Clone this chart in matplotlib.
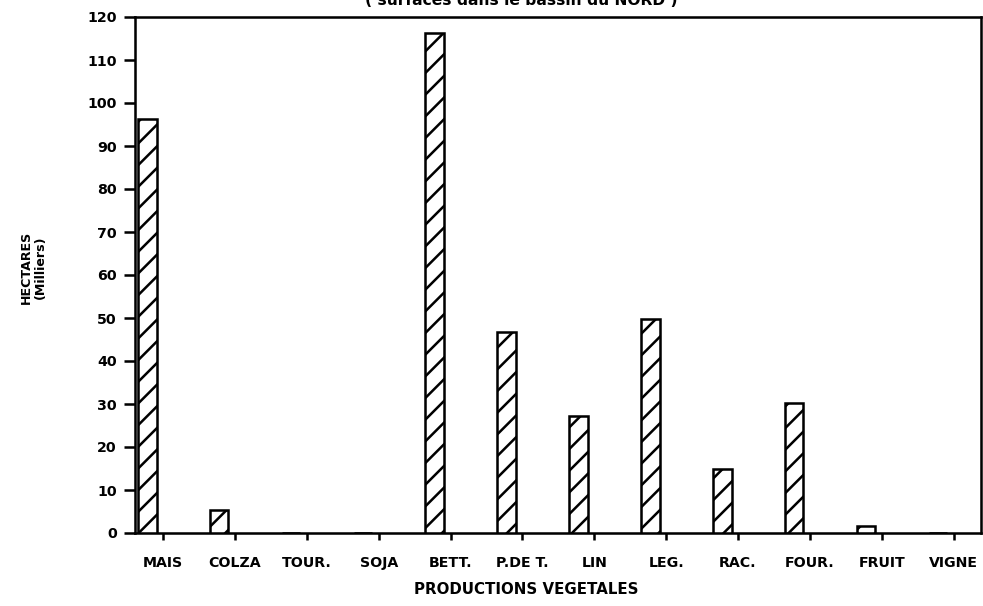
import matplotlib
matplotlib.use("Agg")
import matplotlib.pyplot as plt
import numpy as np

categories = ["MAIS", "COLZA", "TOUR.", "SOJA", "BETT.", "P.DE T.", "LIN",
              "LEG.", "RAC.", "FOUR.", "FRUIT", "VIGNE"]
values = [96.3, 5.3, 0, 0, 116.2, 46.8, 27.2, 49.8, 14.8, 30.3, 1.7, 0]
yticks = list(range(0, 121, 10))

DPI = 130
W, H = 983, 606
plt.rcParams['font.family'] = ['DejaVu Sans']
plt.rcParams['hatch.linewidth'] = 1.4
fig = plt.figure(figsize=(W / DPI, H / DPI), dpi=DPI)
ax = fig.add_axes([135 / W, 1 - 533 / H, (981 - 135) / W, (533 - 17) / H])

x = np.arange(len(categories))
ax.bar(x - 0.22, values, width=0.26, facecolor='white', edgecolor='black',
       linewidth=1.4, hatch='//', zorder=3)

ax.set_xlim(-0.39, 11.38)
ax.set_ylim(0, 120)
ax.set_yticks(yticks)
ax.set_yticklabels([str(v) for v in yticks], fontsize=7.8, fontweight='bold')
ax.set_xticks(x)
ax.set_xticklabels(categories, fontsize=7.8, fontweight='bold')
ax.tick_params(axis='y', direction='out', length=6, width=1.4, pad=4)
ax.tick_params(axis='x', direction='out', length=4, width=1.4, pad=9)
for s in ax.spines.values():
    s.set_linewidth(1.4)

fig.text(526 / W, 1 - 590 / H, "PRODUCTIONS VEGETALES", ha='center', va='center',
         fontsize=8.3, fontweight='bold')
fig.text(33 / W, 1 - 267 / H, "HECTARES\n(Milliers)", ha='center', va='center',
         rotation=90, fontsize=7, fontweight='bold', linespacing=1.1)
fig.text(521 / W, 1 - 8 / H, "( surfaces dans le bassin du NORD )", ha='center',
         va='bottom', fontsize=8.6, fontweight='bold')

fig.savefig("out.png", dpi=DPI)
